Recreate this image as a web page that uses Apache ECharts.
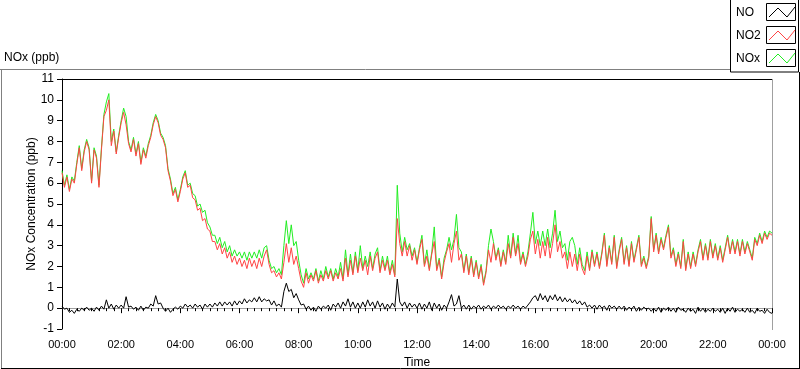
<!DOCTYPE html>
<html>
<head>
<meta charset="utf-8">
<script src="https://cdn.jsdelivr.net/npm/echarts@6/dist/echarts.min.js"></script>
<style>
html,body{margin:0;padding:0;background:#fff;}
#chart{width:800px;height:369px;}
</style>
</head>
<body>
<div id="chart"></div>
<script>
// Sampling: one value every 5 minutes from 00:00 to 24:00
var stepMinutes = 5;
var seriesNames = ['NO', 'NO2', 'NOx'];

var no2 = [
 6.5,5.8,6.3,5.6,6.2,6.0,6.9,7.7,6.6,7.5,8.0,7.6,
 6.0,7.6,7.2,5.8,7.6,9.2,9.5,10.0,7.8,8.5,7.4,8.2,
 8.9,9.4,8.8,7.9,7.5,8.1,7.3,7.9,6.9,7.6,7.2,7.8,
 8.2,8.8,9.2,8.9,8.3,8.1,7.7,6.6,6.1,5.4,5.7,5.1,
 5.6,6.2,6.5,5.8,5.9,5.3,5.2,4.7,4.8,4.2,4.3,3.8,
 3.7,3.2,3.2,2.8,3.1,2.6,2.9,2.4,2.7,2.2,2.5,2.1,
 2.4,2.0,2.3,1.9,2.4,2.0,2.3,1.9,2.4,2.0,2.5,2.8,
 2.1,1.7,1.8,1.5,1.7,1.4,2.2,3.1,2.2,2.9,2.1,2.5,
 1.9,1.3,1.0,1.7,1.2,1.6,1.3,1.8,1.2,1.6,1.3,1.8,
 1.4,1.8,1.3,1.7,1.4,1.9,1.3,2.4,1.5,2.3,1.6,2.5,
 1.7,2.4,1.8,2.3,1.6,2.5,1.8,2.4,2.7,1.7,2.3,1.8,
 2.3,1.6,2.1,1.5,4.3,3.1,2.5,3.2,2.5,3.0,2.3,2.8,
 2.1,2.8,3.3,2.0,2.5,1.8,2.6,3.2,1.8,2.3,1.4,2.2,
 2.7,3.1,2.2,3.1,3.7,2.3,2.6,1.7,2.5,1.6,2.4,1.5,
 2.2,1.4,2.0,1.1,1.7,2.8,2.2,3.1,2.3,2.8,2.0,2.7,
 2.1,3.1,2.4,3.4,2.5,3.1,2.1,2.6,2.0,2.5,3.3,3.7,
 2.6,3.3,2.4,3.2,2.5,3.4,2.4,3.1,4.0,2.7,3.2,2.4,
 2.7,1.9,2.7,2.0,2.6,1.8,2.6,1.9,1.6,2.5,1.8,2.7,
 2.0,2.6,1.9,2.6,3.5,2.0,2.9,2.1,3.4,1.9,2.7,3.3,
 2.1,2.9,2.0,3.1,2.2,2.8,3.4,2.0,2.4,1.9,2.4,4.3,
 2.7,3.5,2.6,3.3,2.8,3.4,3.9,2.4,2.8,2.0,2.6,1.9,
 3.2,1.8,2.6,1.9,2.6,2.0,2.7,3.2,2.3,3.0,2.3,3.2,
 2.4,3.0,2.3,2.9,2.2,2.8,3.4,2.6,3.2,2.6,3.2,2.5,
 3.2,2.6,3.1,2.7,2.3,3.3,3.0,3.5,3.1,3.6,3.3,3.6,
 3.5
];

var nox = [
 6.6,5.9,6.4,5.7,6.3,6.1,7.0,7.8,6.7,7.6,8.1,7.7,
 6.1,7.7,7.3,5.9,7.7,9.3,9.9,10.3,8.0,8.6,7.5,8.3,
 9.0,9.6,9.2,8.0,7.6,8.2,7.4,8.0,7.0,7.7,7.3,7.9,
 8.3,8.9,9.3,9.0,8.4,8.2,7.8,6.7,6.2,5.5,5.8,5.2,
 5.7,6.3,6.6,5.9,6.0,5.5,5.4,4.9,5.0,4.6,4.7,4.1,
 3.9,3.5,3.5,3.1,3.4,2.9,3.2,2.7,3.0,2.5,2.8,2.5,
 2.7,2.4,2.7,2.3,2.7,2.4,2.7,2.4,2.8,2.4,2.9,3.0,
 2.3,1.9,2.0,1.7,1.9,1.6,3.0,4.2,3.1,4.0,3.0,3.2,
 2.3,1.6,1.2,1.9,1.4,1.7,1.4,1.9,1.3,1.8,1.4,2.0,
 1.5,1.9,1.4,1.9,1.5,2.2,1.4,2.8,1.6,2.6,1.7,2.7,
 1.8,3.0,1.9,2.5,2.0,2.7,1.9,2.6,2.9,1.8,2.5,1.9,
 2.5,1.7,2.3,1.6,5.9,3.6,2.7,3.4,2.8,3.1,2.5,2.9,
 2.2,2.9,3.5,2.1,2.8,1.9,2.7,3.9,1.9,2.4,1.5,2.4,
 2.8,3.4,2.8,3.3,4.5,2.9,2.7,1.8,2.6,1.7,2.5,1.6,
 2.3,1.5,2.1,1.2,1.8,3.0,3.8,3.2,2.4,2.9,2.1,2.8,
 2.2,3.5,2.5,3.6,2.6,3.5,2.2,2.7,2.1,2.7,3.6,4.6,
 3.1,3.7,3.0,3.7,3.0,3.8,2.9,3.6,4.7,3.2,3.7,2.9,
 3.1,2.3,3.2,3.4,3.0,2.1,2.9,2.1,1.8,2.7,1.9,2.8,
 2.1,2.7,2.0,2.7,3.6,2.1,3.0,2.2,3.5,2.0,2.8,3.4,
 2.2,3.0,2.1,3.2,2.3,2.9,3.5,2.1,2.5,2.0,2.5,4.4,
 2.8,3.6,2.7,3.4,2.9,3.5,4.0,2.5,2.9,2.1,2.7,2.0,
 3.3,1.9,2.7,2.0,2.7,2.1,2.8,3.3,2.4,3.1,2.4,3.3,
 2.5,3.1,2.4,3.0,2.3,2.9,3.5,2.7,3.3,2.7,3.3,2.6,
 3.3,2.7,3.2,2.8,2.4,3.4,3.1,3.6,3.2,3.7,3.4,3.7,
 3.6
];

var no = [
 0.1,-0.05,0.0,-0.2,-0.1,-0.25,-0.05,-0.15,0.0,-0.1,0.05,-0.1,
 0.0,-0.15,0.05,-0.1,0.1,-0.05,0.4,0.0,0.2,-0.05,0.15,0.0,
 0.15,0.0,0.55,0.05,0.1,-0.05,0.05,-0.1,0.1,-0.1,0.05,0.0,
 0.2,0.1,0.6,0.2,0.25,0.0,-0.15,0.0,-0.2,-0.05,0.05,-0.05,
 0.1,0.0,0.2,0.05,0.15,0.0,0.2,0.05,0.15,-0.05,0.2,0.05,
 0.2,0.05,0.25,0.1,0.3,0.1,0.3,0.15,0.3,0.1,0.35,0.15,
 0.35,0.2,0.45,0.25,0.4,0.3,0.5,0.3,0.55,0.3,0.45,0.35,
 0.4,0.15,0.35,0.1,0.2,0.05,0.8,1.2,0.8,0.9,0.5,0.7,
 0.4,0.15,0.2,-0.05,0.1,-0.1,0.05,-0.15,0.1,-0.05,0.1,0.0,
 0.15,-0.1,0.2,0.05,0.25,0.0,0.3,0.1,0.45,0.05,0.3,0.0,
 0.25,0.0,0.3,0.05,0.4,0.1,0.3,0.0,0.35,0.05,0.25,-0.05,
 0.2,0.0,0.25,0.05,1.4,0.3,0.1,0.3,0.0,0.25,0.05,0.2,
 0.0,0.25,-0.05,0.2,0.0,0.3,-0.1,0.25,0.0,0.2,-0.1,0.15,
 0.0,0.3,0.65,0.1,0.2,0.6,0.0,0.15,-0.05,0.15,-0.05,0.1,
 0.0,0.15,-0.05,0.1,0.0,0.15,-0.05,0.1,0.0,0.15,0.0,0.1,
 -0.05,0.1,0.0,0.15,0.0,0.1,-0.05,0.1,0.0,0.15,0.3,0.5,
 0.6,0.35,0.7,0.4,0.6,0.3,0.6,0.4,0.65,0.35,0.55,0.3,
 0.5,0.3,0.45,0.25,0.4,0.2,0.35,0.15,0.3,0.05,0.15,0.0,
 0.15,-0.05,0.15,0.0,0.1,-0.1,0.15,0.0,0.1,-0.05,0.1,-0.05,
 0.1,-0.1,0.05,-0.05,0.1,-0.15,0.05,-0.1,0.05,-0.05,0.0,-0.15,
 0.0,-0.15,0.05,-0.2,0.0,-0.1,0.05,-0.15,0.0,-0.2,0.05,-0.1,
 -0.05,-0.2,0.0,-0.15,-0.05,-0.25,0.05,-0.15,0.0,-0.2,-0.05,-0.15,
 0.0,-0.15,-0.05,-0.2,0.0,-0.25,0.0,-0.15,0.05,-0.2,-0.05,-0.15,
 -0.05,-0.2,0.0,-0.2,-0.1,-0.25,0.0,-0.15,-0.1,-0.25,-0.05,-0.2,
 -0.25
];

var FONT = 'Liberation Sans, Arial, sans-serif';
var colors = { NO: '#000000', NO2: '#ff4444', NOx: '#22ee22' };

function pairs(arr) { return arr.map(function (v, i) { return [i * stepMinutes, v]; }); }
function fmtTime(m) {
  m = m % 1440;
  var h = Math.floor(m / 60), mm = m % 60;
  return (h < 10 ? '0' : '') + h + ':' + (mm < 10 ? '0' : '') + mm;
}

var chart = echarts.init(document.getElementById('chart'), null, { renderer: 'canvas' });

var legendGraphics = [];
legendGraphics.push({ type: 'rect', shape: { x: 730.5, y: -1, width: 68, height: 73 }, style: { fill: '#fff', stroke: '#000', lineWidth: 1 }, z: 10 });
seriesNames.forEach(function (name, i) {
  var y0 = 4 + i * 23;
  legendGraphics.push({ type: 'text', style: { x: 736, y: y0 + 9, text: name, fill: '#000', font: '12px ' + FONT, verticalAlign: 'middle' }, z: 11 });
  legendGraphics.push({ type: 'rect', shape: { x: 766.5, y: y0 - 0.5, width: 29, height: 17 }, style: { fill: '#fff', stroke: '#000', lineWidth: 1 }, z: 11 });
  legendGraphics.push({ type: 'polyline', shape: { points: [[769, y0 + 13], [778, y0 + 4], [787, y0 + 13], [795, y0 + 3]] }, style: { stroke: colors[name], lineWidth: 1, fill: null }, z: 12 });
});

var option = {
  animation: false,
  backgroundColor: '#ffffff',
  textStyle: { fontFamily: FONT },
  grid: { left: 62, right: 28, top: 79, bottom: 40, containLabel: false, outerBoundsMode: 'none' },
  xAxis: {
    type: 'value', min: 0, max: 1440, interval: 120,
    name: 'Time', nameLocation: 'middle', nameGap: 28, nameMoveOverlap: false,
    nameTextStyle: { color: '#000', fontSize: 12, fontFamily: FONT },
    axisLine: { show: true, lineStyle: { color: '#a0a0a0', width: 1 } },
    axisTick: { show: true, length: 5, lineStyle: { color: '#000' } },
    minorTick: { show: true, splitNumber: 8, length: 3, lineStyle: { color: '#000' } },
    axisLabel: { color: '#000', fontSize: 11, fontFamily: FONT, margin: 10, formatter: function (v) { return fmtTime(v); } },
    splitLine: { show: false }
  },
  yAxis: {
    type: 'value', min: -1, max: 11, interval: 1,
    name: 'NOx Concentration (ppb)', nameLocation: 'middle', nameGap: 24, nameRotate: 90, nameMoveOverlap: false,
    nameTextStyle: { color: '#000', fontSize: 12, fontFamily: FONT },
    axisLine: { show: true, lineStyle: { color: '#000', width: 1 } },
    axisTick: { show: true, length: 5, lineStyle: { color: '#000' } },
    axisLabel: { color: '#000', fontSize: 12, fontFamily: FONT, margin: 8 },
    splitLine: { show: false }
  },
  series: [
    { name: 'NOx', type: 'line', data: pairs(nox), showSymbol: false, symbol: 'none', lineStyle: { color: colors.NOx, width: 1 }, itemStyle: { color: colors.NOx }, z: 2 },
    { name: 'NO2', type: 'line', data: pairs(no2), showSymbol: false, symbol: 'none', lineStyle: { color: colors.NO2, width: 1 }, itemStyle: { color: colors.NO2 }, z: 3 },
    { name: 'NO', type: 'line', data: pairs(no), showSymbol: false, symbol: 'none', lineStyle: { color: colors.NO, width: 1 }, itemStyle: { color: colors.NO }, z: 4 }
  ],
  graphic: [
    { type: 'text', style: { x: 4, y: 58, text: 'NOx (ppb)', fill: '#000', font: '12px ' + FONT, verticalAlign: 'middle' } },
    { type: 'line', shape: { x1: 0, y1: 69.5, x2: 731, y2: 69.5 }, style: { stroke: '#808080', lineWidth: 1 } },
    { type: 'line', shape: { x1: 1.5, y1: 69, x2: 1.5, y2: 368 }, style: { stroke: '#808080', lineWidth: 1 } },
    { type: 'line', shape: { x1: 1, y1: 368.5, x2: 800, y2: 368.5 }, style: { stroke: '#000', lineWidth: 1 } },
    { type: 'line', shape: { x1: 799.5, y1: 72, x2: 799.5, y2: 369 }, style: { stroke: '#000', lineWidth: 1 } },
    { type: 'line', shape: { x1: 62, y1: 79.5, x2: 772, y2: 79.5 }, style: { stroke: '#000', lineWidth: 1 } },
    { type: 'line', shape: { x1: 772.5, y1: 79, x2: 772.5, y2: 330 }, style: { stroke: '#a0a0a0', lineWidth: 1 } }
  ].concat(legendGraphics)
};
chart.setOption(option);
</script>
</body>
</html>
